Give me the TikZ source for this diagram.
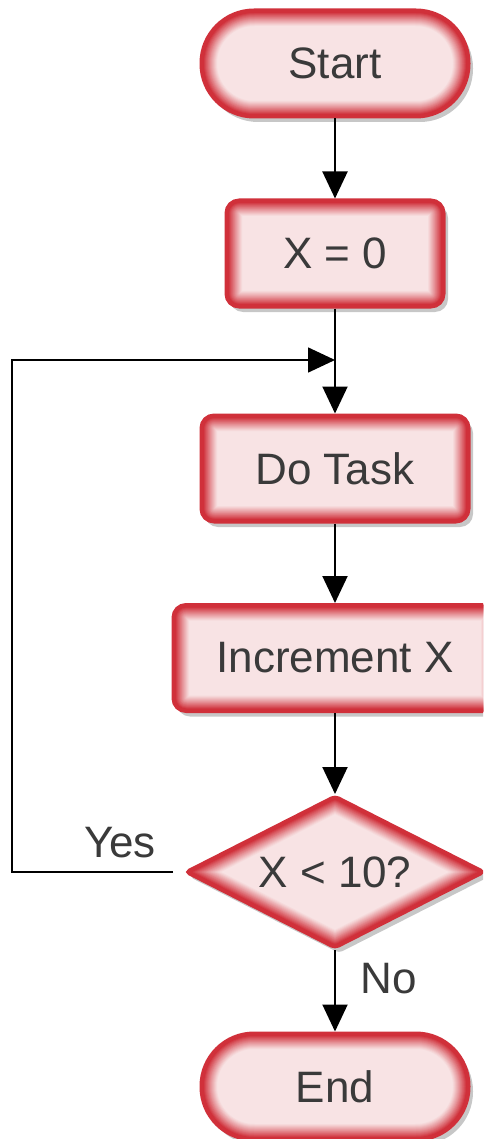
\documentclass[tikz,border=0pt]{standalone}
\usepackage{fontspec}
\setmainfont{Liberation Sans}
\usetikzlibrary{arrows.meta,shapes.geometric,shadows}
\definecolor{bord}{HTML}{D0303A}
\definecolor{fillp}{HTML}{F8E3E4}
\definecolor{txt}{HTML}{3A3A3A}
\tikzset{
  glowrect/.style={path picture={
    \foreach \i in {0,...,14}{
      \pgfmathtruncatemacro{\w}{34-2*\i}
      \pgfmathtruncatemacro{\c}{100*(\i/14)^1.1}
      \draw[line width=\w pt, draw=bord!\c!fillp, rounded corners=#1]
        (path picture bounding box.south west) rectangle (path picture bounding box.north east);
    }}},
  glowdia/.style={path picture={
    \foreach \i in {0,...,14}{
      \pgfmathtruncatemacro{\w}{34-2*\i}
      \pgfmathtruncatemacro{\c}{100*(\i/14)^1.1}
      \draw[line width=\w pt, draw=bord!\c!fillp, line join=round]
        (path picture bounding box.west) -- (path picture bounding box.north) --
        (path picture bounding box.east) -- (path picture bounding box.south) -- cycle;
    }}},
  box/.style={draw=bord, line width=3pt, fill=fillp, text=txt,
    font=\fontsize{44}{50}\selectfont, inner sep=0pt,
    drop shadow={shadow xshift=4pt, shadow yshift=-5pt, opacity=.22, fill=black}},
  procbox/.style={box, rectangle, rounded corners=13pt, minimum width=#1,
    minimum height=107pt, glowrect=13pt},
  term/.style={box, rectangle, rounded corners=53pt, minimum width=268pt,
    minimum height=107pt, glowrect=53pt},
  decis/.style={box, diamond, aspect=2, rounded corners=4pt, minimum width=300pt,
    minimum height=153pt, glowdia},
  wire/.style={draw=black, line width=2pt},
  conn/.style={wire, -{Triangle[length=27pt,width=25pt]}},
  lbl/.style={text=txt, font=\fontsize{44}{50}\selectfont, inner sep=0pt},
}
\begin{document}
\begin{tikzpicture}[x=1pt,y=-1pt]
\useasboundingbox (0,0) rectangle (483,1139);
\clip (0,0) rectangle (483,1139);
\node[term] (start) at (335,63.5) {Start};
\node[procbox=218pt] (x0) at (335,253.5) {X = 0};
\node[procbox=268pt] (task) at (335,468.5) {Do Task};
\node[procbox=324pt] (inc) at (335,658) {Increment X};
\node[decis] (dec) at (335,872) {X < 10?};
\node[term] (end) at (335,1086.5) {End};
\coordinate (join) at (335,360);
\coordinate (cl) at (12,872);
\coordinate (cu) at (12,360);
\coordinate (ys) at (173,872);
\node[lbl, anchor=base] (yes) at (120,857) {Yes};
\node[lbl, anchor=base] (no) at (389,993) {No};
\draw[conn] (start) -- (x0);
\draw[wire] (x0) -- (join);
\draw[conn] (join) -- (task);
\draw[conn] (task) -- (inc);
\draw[conn] (inc) -- (dec);
\draw[conn] (dec) -- (end);
\draw[wire, line width=1.6pt, -{Triangle[length=27pt,width=25pt]}] (ys) -- (cl) -- (cu) -- (join);
\end{tikzpicture}
\end{document}
